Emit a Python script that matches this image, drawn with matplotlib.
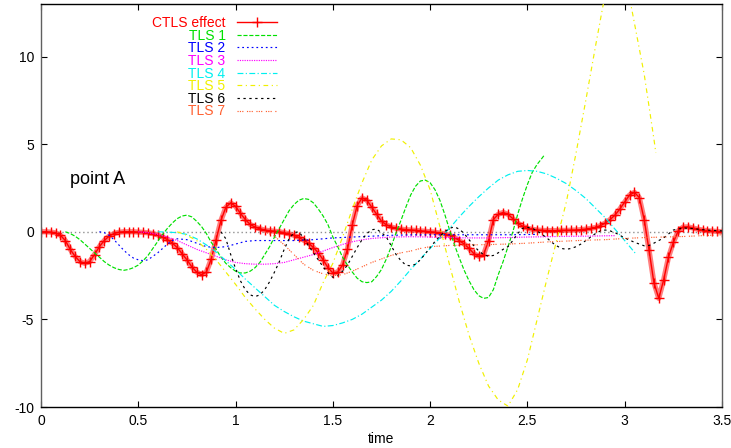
import numpy as np
import matplotlib
matplotlib.use('Agg')
import matplotlib.pyplot as plt
from matplotlib.ticker import FormatStrFormatter

plt.rcParams['font.family'] = ['Liberation Sans', 'DejaVu Sans']
plt.rcParams['axes.unicode_minus'] = False

# CTLS effect, sampled every 0.025
ctls_t = np.arange(141) * 0.025
ctls_y = [0.0, 0.0, -0.02, -0.06, -0.2, -0.5, -1.0, -1.4, -1.7, -1.8,
          -1.7, -1.3, -0.85, -0.5, -0.25, -0.1, -0.03, 0.0, 0.0, 0.0,
          -0.02, -0.03, -0.06, -0.1, -0.18, -0.3, -0.45, -0.65, -0.9, -1.25,
          -1.6, -2.0, -2.3, -2.45, -2.3, -1.55, -0.45, 0.65, 1.4, 1.65,
          1.45, 1.05, 0.7, 0.42, 0.27, 0.17, 0.1, 0.06, 0.03, 0.0,
          -0.05, -0.12, -0.2, -0.32, -0.48, -0.65, -0.9, -1.2, -1.6, -2.05,
          -2.35, -2.3, -1.9, -1.0, 0.4, 1.5, 1.93, 1.8, 1.4, 1.0,
          0.6, 0.4, 0.27, 0.2, 0.15, 0.12, 0.1, 0.08, 0.05, 0.03,
          0.0, -0.03, -0.07, -0.12, -0.2, -0.33, -0.5, -0.7, -0.95, -1.25,
          -1.4, -1.3, -0.5, 0.7, 1.0, 1.1, 1.0, 0.75, 0.5, 0.32,
          0.2, 0.14, 0.1, 0.08, 0.07, 0.07, 0.07, 0.08, 0.08, 0.09,
          0.1, 0.12, 0.15, 0.19, 0.25, 0.35, 0.5, 0.7, 0.95, 1.3,
          1.7, 2.1, 2.25, 1.95, 0.7, -1.05, -2.9, -3.8, -2.75, -1.45,
          -0.6, 0.05, 0.27, 0.28, 0.22, 0.15, 0.1, 0.06, 0.04, 0.02,
          0.0]

tls1_t = np.r_[0.125 + np.arange(99) * 0.025, 2.585]
tls1_y = [0.0, -0.1, -0.25, -0.45, -0.7, -0.95, -1.2, -1.45, -1.7, -1.9,
          -2.05, -2.15, -2.2, -2.15, -2.05, -1.9, -1.65, -1.35, -0.95, -0.55,
          -0.15, 0.2, 0.5, 0.75, 0.9, 0.95, 0.85, 0.6, 0.3, -0.1,
          -0.6, -1.0, -1.45, -1.8, -2.05, -2.25, -2.35, -2.35, -2.25, -2.05,
          -1.75, -1.3, -0.85, -0.3, 0.2, 0.7, 1.2, 1.55, 1.8, 1.9,
          1.85, 1.65, 1.3, 0.9, 0.4, -0.3, -0.85, -1.45, -1.9, -2.3,
          -2.65, -2.85, -2.9, -2.85, -2.55, -2.15, -1.55, -0.85, -0.05, 0.65,
          1.4, 2.1, 2.6, 2.9, 2.95, 2.8, 2.4, 1.8, 1.0, 0.1,
          -0.75, -1.5, -2.2, -2.8, -3.3, -3.65, -3.8, -3.75, -3.3, -2.45,
          -1.7, -0.85, 0.0, 1.0, 1.9, 2.7, 3.4, 3.85, 4.2, 4.35]

tls2_t = [0.3, 0.325, 0.35, 0.375, 0.4, 0.425, 0.45, 0.475, 0.5, 0.525,
          0.55, 0.575, 0.6, 0.625, 0.65, 0.675, 0.7, 0.75, 0.8, 0.85,
          0.9, 0.95, 1.0, 1.05, 1.1, 1.2, 1.3, 1.4, 1.5, 1.6,
          1.7, 1.8, 1.9, 2.0, 2.2, 2.4, 2.55]
tls2_y = [0.0, -0.05, -0.2, -0.45, -0.75, -1.05, -1.3, -1.5, -1.6, -1.65,
          -1.6, -1.4, -1.2, -0.95, -0.7, -0.5, -0.4, -0.45, -0.65, -0.85,
          -0.9, -0.85, -0.7, -0.55, -0.5, -0.5, -0.5, -0.45, -0.35, -0.3,
          -0.25, -0.2, -0.18, -0.17, -0.17, -0.17, -0.15]

tls3_t = [0.5, 0.55, 0.6, 0.65, 0.7, 0.75, 0.8, 0.85, 0.9, 0.95,
          1.0, 1.05, 1.1, 1.15, 1.2, 1.25, 1.3, 1.35, 1.4, 1.45,
          1.5, 1.55, 1.6, 1.65, 1.7, 1.8, 1.9, 2.0, 2.1, 2.2,
          2.3, 2.4, 2.5, 2.6, 2.7, 2.8, 2.95]
tls3_y = [0.0, -0.05, -0.15, -0.3, -0.5, -0.75, -1.0, -1.2, -1.4, -1.6,
          -1.75, -1.82, -1.85, -1.85, -1.82, -1.75, -1.6, -1.45, -1.3, -1.1,
          -0.9, -0.72, -0.57, -0.46, -0.38, -0.3, -0.28, -0.3, -0.33, -0.35,
          -0.35, -0.33, -0.3, -0.28, -0.26, -0.25, -0.22]

tls4_t = np.r_[0.6 + np.arange(49) * 0.05, 3.06]
tls4_y = [0.0, -0.02, -0.05, -0.15, -0.4, -0.75, -1.15, -1.65, -2.15, -2.7,
          -3.2, -3.7, -4.2, -4.55, -4.85, -5.1, -5.25, -5.4, -5.35, -5.2,
          -5.0, -4.7, -4.3, -3.9, -3.4, -2.8, -2.15, -1.55, -0.95, -0.35,
          0.2, 0.85, 1.45, 2.0, 2.5, 2.95, 3.25, 3.45, 3.5, 3.45,
          3.3, 3.05, 2.75, 2.35, 1.9, 1.35, 0.8, 0.15, -0.5, -1.3]

tls5_t = np.r_[0.7 + np.arange(50) * 0.05, 3.16]
tls5_y = [0.0, -0.2, -0.5, -1.0, -1.6, -2.3, -3.0, -3.75, -4.4, -5.0,
          -5.5, -5.8, -5.6, -5.0, -4.2, -2.9, -1.8, -0.3, 1.3, 2.8,
          4.1, 4.9, 5.3, 5.25, 4.8, 3.8, 2.4, 0.3, -1.9, -4.0,
          -5.9, -7.5, -8.8, -9.6, -9.95, -9.0, -7.3, -5.0, -2.7, -0.5,
          1.7, 4.5, 7.5, 10.6, 13.6, 16.0, 14.8, 11.9, 9.0, 5.3,
          4.5]

tls6_t = np.r_[0.925 + np.arange(84) * 0.025,
               [3.05, 3.1, 3.125, 3.15, 3.2, 3.25, 3.3, 3.35, 3.4, 3.45, 3.5]]
tls6_y = [0.0, -0.4, -1.3, -2.1, -2.8, -3.3, -3.6, -3.7, -3.6, -3.3,
          -2.85, -2.3, -1.7, -1.0, -0.4, -0.05, 0.0, -0.35, -0.8, -1.2,
          -1.6, -2.0, -2.35, -2.6, -2.5, -2.25, -1.9, -1.4, -0.9, -0.45,
          -0.1, 0.12, 0.15, -0.05, -0.3, -0.8, -1.3, -1.65, -1.9, -1.95,
          -1.85, -1.6, -1.25, -0.9, -0.55, -0.25, 0.0, 0.2, 0.28, 0.15,
          -0.1, -0.45, -0.8, -1.1, -1.3, -1.4, -1.35, -1.2, -1.0, -0.85,
          -0.5, -0.1, 0.2, 0.25, 0.2, 0.05, -0.15, -0.35, -0.6, -0.8,
          -0.95, -1.0, -0.95, -0.85, -0.7, -0.5, -0.3, -0.1, 0.05, 0.1,
          0.05, -0.05, -0.2, -0.35,
          -0.6, -0.8, -0.78, -0.65, -0.35, 0.1, 0.22, 0.18, 0.12, 0.08, 0.05]

tls7_t = [1.15, 1.2, 1.25, 1.3, 1.35, 1.4, 1.45, 1.5, 1.55, 1.6,
          1.65, 1.7, 1.75, 1.8, 1.85, 1.9, 1.95, 2.0, 2.1, 2.2,
          2.3, 2.4, 2.5, 2.6, 2.7, 2.8, 2.9, 3.0, 3.1, 3.2,
          3.3, 3.4, 3.5]
tls7_y = [0.0, -0.25, -0.75, -1.3, -1.85, -2.2, -2.4, -2.5, -2.45, -2.25,
          -2.0, -1.75, -1.55, -1.35, -1.2, -1.1, -0.95, -0.85, -0.78, -0.75,
          -0.73, -0.7, -0.65, -0.58, -0.53, -0.48, -0.45, -0.38, -0.33, -0.3,
          -0.27, -0.22, -0.17]

fig = plt.figure(figsize=(7.31, 4.48), dpi=100)
ax = fig.add_axes([41 / 731, 1 - 407 / 448, 681 / 731, 403 / 448])

ax.axhline(0, color='#909090', lw=1.0, ls=(0, (1, 2)), zorder=1)

# soft band under the CTLS curve, then the curve with + points
ax.plot(ctls_t, ctls_y, color='red', lw=3.8, alpha=0.5,
        solid_capstyle='round', zorder=2)
ax.plot(ctls_t, ctls_y, color='red', lw=1.0, marker='+', ms=6.5, mew=1.0,
        label='CTLS effect', zorder=2)
tls = [
    (tls1_t, tls1_y, 'TLS 1', '#00e000', (0, (3.5, 1.5))),
    (tls2_t, tls2_y, 'TLS 2', '#0000ff', (0, (1.5, 2.5))),
    (tls3_t, tls3_y, 'TLS 3', '#ff00ff', (0, (1, 1))),
    (tls4_t, tls4_y, 'TLS 4', '#00f0f0', (0, (5, 2, 1, 2))),
    (tls5_t, tls5_y, 'TLS 5', '#f0f000', (0, (4, 3, 1, 3))),
    (tls6_t, tls6_y, 'TLS 6', 'black', (0, (2, 3))),
    (tls7_t, tls7_y, 'TLS 7', '#ff6030', (0, (1, 1, 1, 1, 1, 3))),
]
for i, (t, y, name, c, ls) in enumerate(tls):
    ax.plot(t, y, color=c, lw=0.85, ls=ls, label=name, zorder=3 + i)

ax.text(0.15, 2.75, 'point A', fontsize=13, va='baseline')

ax.set_xlim(0, 3.5)
ax.set_ylim(-10, 13)
ax.set_xticks([0, 0.5, 1, 1.5, 2, 2.5, 3, 3.5])
ax.set_yticks([-10, -5, 0, 5, 10])
ax.xaxis.set_major_formatter(FormatStrFormatter('%g'))
ax.tick_params(direction='in', length=4.5, width=0.8, labelsize=10,
               top=True, right=True, pad=5)
ax.set_xlabel('time', fontsize=10, labelpad=3)
for s in ['left', 'right']:
    ax.spines[s].set_color('#606060')
for s in ax.spines.values():
    s.set_linewidth(1.0)

leg = ax.legend(loc='upper right', bbox_to_anchor=(0.3465, 0.970),
                markerfirst=False, frameon=False, fontsize=10,
                numpoints=1, handlelength=2.9, handletextpad=0.8,
                labelspacing=-0.1, borderaxespad=0, borderpad=0)
for text, line in zip(leg.get_texts(), leg.get_lines()):
    text.set_color(line.get_color())

fig.savefig('out.png', dpi=100)
